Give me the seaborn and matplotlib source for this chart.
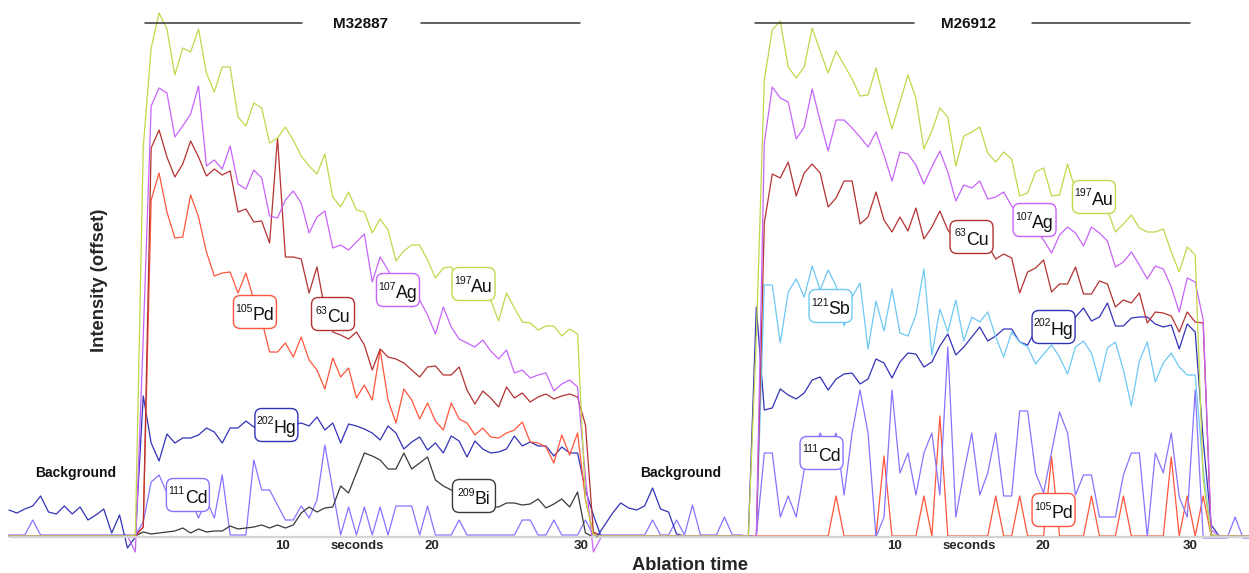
import numpy as np
import pandas as pd
import matplotlib
matplotlib.use("Agg")
import matplotlib.pyplot as plt
import matplotlib.transforms as mtransforms
from matplotlib.patches import FancyBboxPatch
import seaborn as sns

sns.set_style("white")
plt.rcParams['font.family'] = ['Liberation Sans', 'DejaVu Sans']
plt.rcParams['mathtext.default'] = 'regular'

# ---------------- acquisition time grids (s) ----------------
t_left = np.round(0.624 + 0.530 * np.arange(-17, 59), 3)
t_right = np.round(1.139 + 0.541 * np.arange(-21, 62), 3)

# ---------------- M32887 (left) : intensity, offset units ----------------
BG17 = [1, 1, 1, 1, 1, 1, 1, 1, 1, 1, 1, 1, 1, 1, 1, 1, 1]
L_Au = BG17[:-1] + [2] + [390, 489, 524, 508, 462, 489, 485, 508, 464, 445, 470, 470, 420, 411, 434, 429,
                          394, 399, 410, 397, 381, 371, 363, 383, 340, 330, 345, 327, 325, 304, 318, 307,
                          276, 286, 292, 292, 277, 259, 269, 270, 255, 262, 247, 249, 237, 216, 244, 229,
                          215, 214, 207, 211, 211, 201, 208, 203, 37, 2, 1]
L_Ag = BG17[:-1] + [-15] + [200, 431, 449, 444, 400, 411, 423, 451, 371, 377, 368, 391, 353, 348, 367, 359,
                            321, 319, 337, 346, 334, 304, 320, 326, 289, 292, 287, 295, 303, 255, 280, 267,
                            252, 242, 230, 237, 222, 203, 230, 210, 198, 194, 190, 197, 186, 178, 187, 164,
                            167, 159, 162, 164, 146, 153, 157, 150, 60, -15, 0]
L_Cu = BG17 + [10, 389, 407, 380, 360, 373, 396, 380, 361, 368, 362, 366, 325, 328, 315, 316,
               294, 399, 280, 280, 278, 244, 270, 227, 205, 202, 198, 205, 192, 167, 188, 180,
               178, 174, 167, 160, 170, 171, 162, 162, 170, 147, 133, 146, 139, 130, 150, 139,
               144, 135, 140, 143, 138, 141, 143, 140, 112, 5, 1]
L_Pd = BG17 + [10, 337, 364, 325, 299, 300, 342, 320, 285, 261, 264, 265, 244, 264, 237, 217,
               185, 185, 194, 180, 200, 177, 167, 148, 179, 160, 169, 139, 152, 137, 187, 137,
               114, 148, 137, 118, 134, 116, 107, 134, 118, 114, 102, 109, 100, 99, 104, 107,
               115, 95, 94, 90, 74, 102, 82, 104, 37, 4, 1]
L_Hg = [27, 24, 28, 31, 41, 25, 23, 31, 23, 30, 17, 22, 28, 4, 22, -11, 0,
        141, 94, 76, 103, 94, 99, 99, 102, 109, 105, 94, 109, 109, 116, 110, 117,
        122, 112, 119, 112, 114, 111, 120, 107, 114, 94, 113, 111, 108, 104, 97, 111,
        104, 88, 95, 100, 87, 94, 84, 101, 96, 80, 96, 88, 84, 85, 88, 101,
        91, 95, 91, 91, 81, 90, 84, 84, 47, 22, 0]
L_Cd = [2, 2, 2, 17, 2, 2, 2, 2, 2, 2, 2, 2, 2, 2, 2, 2, 2,
        15, 55, 62, 44, 42, 32, 37, 19, 37, 19, 62, 2, 2, 2, 77, 47,
        47, 32, 17, 17, 31, 19, 37, 92, 47, 2, 30, 2, 30, 2, 30, 2,
        31, 31, 31, 2, 31, 2, 2, 2, 17, 2, 2, 2, 2, 2, 2, 2,
        17, 17, 2, 2, 17, 2, 2, 2, 17, 2, 0]
L_Bi = BG17 + [5, 3, 4, 5, 6, 9, 4, 8, 5, 6, 6, 11, 8, 9, 10, 12,
               9, 12, 9, 12, 24, 30, 25, 29, 30, 51, 44, 64, 84, 81, 77, 68,
               68, 84, 68, 74, 80, 57, 51, 47, 42, 37, 34, 32, 30, 30, 34, 34,
               32, 33, 38, 29, 33, 38, 30, 45, 4, 0, 0]

# ---------------- M26912 (right) ----------------
BG20 = [1, 1, 1, 1, 1, 1, 1, 1, 1, 1, 1, 1, 1, 1, 1, 1, 1, 1, 1, 1]
TAIL = [1, 1, 1, 1, 1]
R_Au = BG20 + [200] + [457, 507, 516, 470, 459, 470, 509, 486, 464, 486, 472, 458, 441, 442, 469, 437,
                       408, 435, 462, 439, 388, 406, 429, 420, 371, 401, 405, 410, 384, 375, 385, 378,
                       341, 344, 365, 369, 341, 342, 373, 347, 337, 342, 332, 327, 305, 313, 322, 309,
                       305, 305, 308, 285, 265, 290, 282, 57, 2] + TAIL
R_Ag = BG20 + [0] + [394, 450, 439, 435, 398, 410, 448, 416, 386, 417, 417, 409, 400, 390, 405, 382,
                     356, 385, 383, 372, 353, 370, 386, 365, 336, 352, 349, 356, 338, 340, 345, 331,
                     322, 312, 307, 297, 284, 302, 310, 304, 291, 310, 304, 296, 270, 275, 285, 272,
                     258, 271, 268, 250, 225, 259, 255, 217, 7] + TAIL
R_Cu = BG20 + [0] + [314, 363, 359, 375, 341, 364, 373, 364, 330, 339, 356, 356, 313, 320, 345, 317,
                     305, 320, 306, 329, 298, 310, 326, 307, 297, 302, 292, 297, 292, 278, 283, 279,
                     244, 265, 269, 277, 245, 253, 253, 270, 243, 243, 256, 253, 230, 237, 234, 244,
                     214, 225, 224, 221, 205, 225, 215, 214, 2] + TAIL
R_Sb = BG20 + [0] + [252, 252, 194, 245, 258, 240, 271, 247, 267, 251, 211, 240, 254, 188, 236, 206,
                     248, 204, 201, 222, 268, 182, 228, 205, 237, 196, 220, 215, 225, 200, 180, 205,
                     195, 190, 173, 183, 192, 180, 163, 190, 196, 184, 155, 189, 195, 167, 131, 176,
                     195, 155, 174, 184, 170, 162, 162, 67, 2] + TAIL
R_Hg = [0, 12, 24, 34, 29, 27, 31, 49, 28, 25, 3, 1, 1, 1, 1, 1, 1, 1, 1, 1, 230,
        127, 129, 148, 142, 138, 144, 157, 160, 147, 158, 163, 164, 153, 158, 178, 174,
        159, 175, 184, 183, 170, 175, 191, 203, 182, 190, 200, 210, 196, 201, 208, 208,
        195, 192, 207, 217, 212, 219, 215, 220, 229, 216, 220, 234, 211, 211, 219, 220,
        220, 213, 210, 212, 188, 213, 205, 97, 12] + TAIL
R_Cd = [2, 2, 2, 2, 2, 2, 2, 17, 2, 2, 17, 2, 32, 2, 2, 2, 20, 2, 2, 1, 0,
        84, 84, 20, 41, 20, 67, 82, 104, 87, 104, 42, 104, 147, 104, 0, 20,
        147, 64, 84, 42, 84, 104, 42, 190, 20, 64, 104, 42, 64, 104, 41, 41,
        126, 126, 64, 44, 85, 125, 104, 42, 62, 62, 20, 20, 20, 62, 84, 84,
        0, 84, 64, 104, 40, 20, 147, -1, -1, -1, -1, 20, -1, -1]
R_Pd = BG20 + [1] + [1, 1, 1, 1, 1, 1, 1, 1, 1, 41, 1, 1, 1, 1, 1, 81,
                     1, 1, 1, 1, 41, 1, 121, 1, 1, 1, 1, 1, 1, 41, 1, 1,
                     41, 1, 1, 1, 80, 1, 1, 1, 1, 41, 1, 1, 1, 41, 1, 1,
                     1, 1, 1, 80, 1, 41, 1, 41, 1] + TAIL

colors = {'Au': '#c3d74b', 'Ag': '#c864fa', 'Cu': '#b43232', 'Pd': '#ff553c',
          'Hg': '#3232b8', 'Cd': '#8773ff', 'Bi': '#3a3a3a', 'Sb': '#6ec8f5'}
masses = {'Au': 197, 'Ag': 107, 'Cu': 63, 'Pd': 105, 'Hg': 202, 'Cd': 111, 'Bi': 209, 'Sb': 121}

left_series = {'Cd': L_Cd, 'Bi': L_Bi, 'Hg': L_Hg, 'Pd': L_Pd, 'Cu': L_Cu, 'Ag': L_Ag, 'Au': L_Au}
right_series = {'Pd': R_Pd, 'Cd': R_Cd, 'Hg': R_Hg, 'Sb': R_Sb, 'Cu': R_Cu, 'Ag': R_Ag, 'Au': R_Au}

# label anchor positions (time s, offset intensity)
left_labels = [('Pd', 8.12, 225), ('Cu', 13.36, 223), ('Ag', 17.72, 247), ('Au', 22.79, 253),
               ('Hg', 9.56, 112), ('Cd', 3.62, 42), ('Bi', 22.82, 41)]
right_labels = [('Sb', 5.63, 231), ('Cu', 15.19, 300), ('Ag', 19.46, 317), ('Au', 23.49, 340),
                ('Hg', 20.75, 210), ('Cd', 5.02, 84), ('Pd', 20.75, 27)]

panels = [
    dict(name='M32887', t=t_left, series=left_series, labels=left_labels,
         xlim=(-8.32, 31.28), pos=[10, 600], rules=[(0.74, 11.28), (19.26, 29.93)], title_x=15.2,
         bg_x=-3.89),
    dict(name='M26912', t=t_right, series=right_series, labels=right_labels,
         xlim=(-10.0, 34.0), pos=[600, 1249], rules=[(0.51, 11.29), (19.29, 30.0)], title_x=14.95,
         bg_x=-4.5),
]

W, H = 1249, 573
fig = plt.figure(figsize=(W / 100, H / 100), dpi=100)
renderer = fig.canvas.get_renderer()
base_px = 537

for p in panels:
    x0, x1 = p['pos']
    ax = fig.add_axes([x0 / W, (H - base_px) / H, (x1 - x0) / W, base_px / H])
    ax.patch.set_alpha(0)
    rows = []
    for el, vals in p['series'].items():
        assert len(vals) == len(p['t']), (p['name'], el, len(vals), len(p['t']))
        rows.append(pd.DataFrame({'t': p['t'], 'value': vals, 'element': el}))
    df = pd.concat(rows, ignore_index=True)
    order = list(p['series'].keys())
    sns.lineplot(data=df, x='t', y='value', hue='element', hue_order=order,
                 palette=colors, estimator=None, legend=False, ax=ax,
                 linewidth=0.9, clip_on=False)
    ax.set_xlim(*p['xlim'])
    ax.set_ylim(0, base_px)
    for s in ['left', 'right', 'top']:
        ax.spines[s].set_visible(False)
    ax.spines['bottom'].set_color('#d4d4d4')
    ax.spines['bottom'].set_linewidth(1.6)
    ax.set_yticks([])
    ax.set_xticks([10, 15, 20, 30])
    ax.set_xticklabels(['10', 'seconds', '20', '30'], fontsize=9.5, fontweight='bold')
    ax.tick_params(axis='x', length=0, pad=2.5)
    ax.set_xlabel('')
    ax.set_ylabel('')
    # title rules
    for a, b in p['rules']:
        ax.plot([a, b], [514, 514], color='#333333', lw=1.1, clip_on=False)
    ax.text(p['title_x'], 513, p['name'], ha='center', va='center', fontsize=11,
            fontweight='bold', color='#111111')
    ax.text(p['bg_x'], 64, 'Background', ha='center', va='center', fontsize=10,
            fontweight='bold', color='#111111')
    # element labels: rounded boxes with superscript mass numbers
    for el, lx, ly in p['labels']:
        cx, cy = ax.transData.transform((lx, ly))
        tr = mtransforms.Affine2D().translate(cx, cy)
        box = FancyBboxPatch((-21.5, -16.5), 43, 33,
                             boxstyle='round,pad=0,rounding_size=7',
                             transform=tr, fc='white', ec=colors[el], lw=1.0,
                             zorder=5, clip_on=False)
        ax.add_patch(box)
        t_sup = ax.text(0, 0, str(masses[el]), fontsize=7.6, zorder=6, color='#111111',
                        ha='left', va='baseline')
        t_el = ax.text(0, 0, el, fontsize=12.8, zorder=6, color='#111111',
                       ha='left', va='baseline')
        ws = t_sup.get_window_extent(renderer).width
        we = t_el.get_window_extent(renderer).width
        start = -(ws + we) / 2.0
        t_sup.set_position((lx, ly))
        t_sup.set_transform(mtransforms.offset_copy(ax.transData, fig=fig, x=start,
                                                    y=0.5, units='dots'))
        t_el.set_position((lx, ly))
        t_el.set_transform(mtransforms.offset_copy(ax.transData, fig=fig, x=start + ws,
                                                   y=-8.0, units='dots'))

fig.text(100 / W, 1 - 280 / H, 'Intensity (offset)', rotation=90, ha='center', va='center',
         fontsize=13.2, fontweight='bold')
fig.text(690 / W, 1 - 565 / H, 'Ablation time', ha='center', va='center',
         fontsize=13.2, fontweight='bold')

fig.savefig('out.png', dpi=100, facecolor='white')
